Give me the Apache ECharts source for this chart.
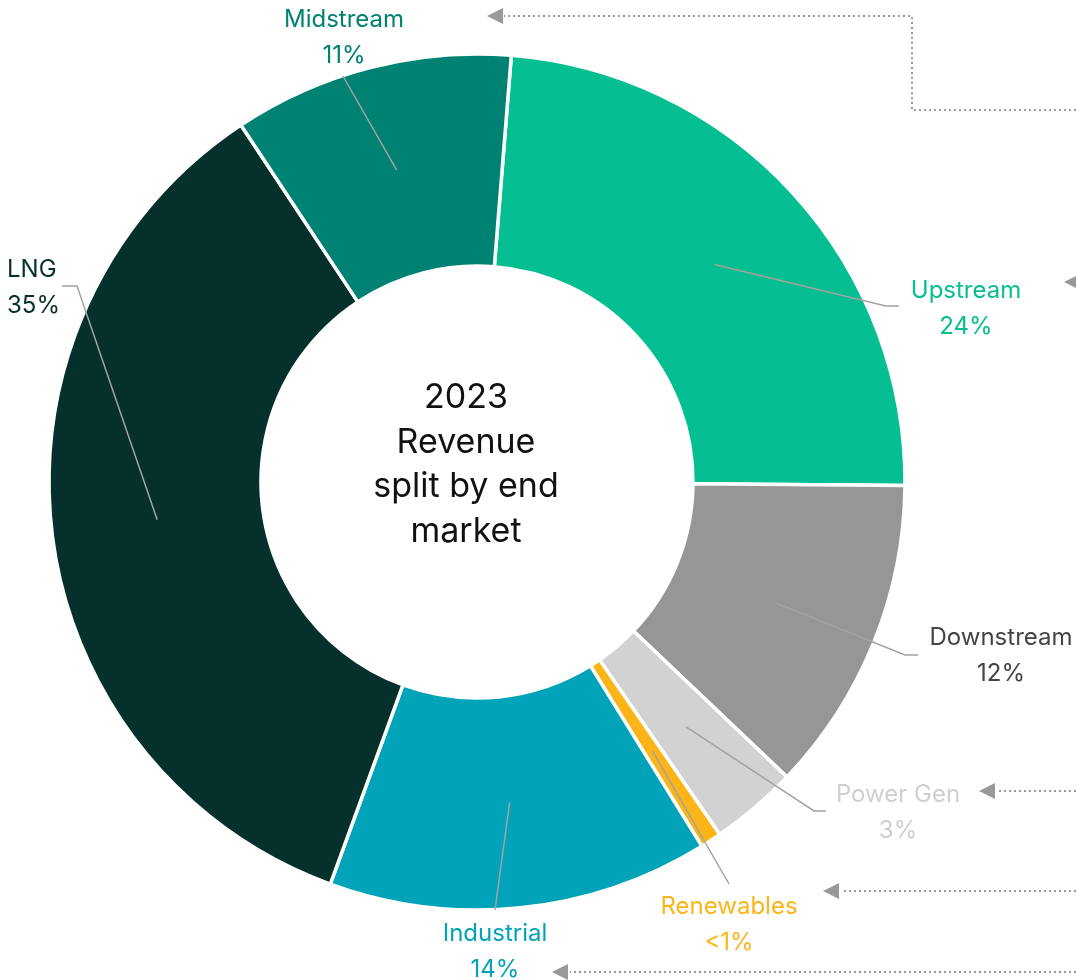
<!DOCTYPE html>
<html>
<head>
<meta charset="utf-8">
<script src="https://cdn.jsdelivr.net/npm/echarts@6/dist/echarts.min.js"></script>
<style>
  html, body { margin: 0; padding: 0; background: #fff; }
  #main { width: 1076px; height: 980px; }
</style>
</head>
<body>
<div id="main"></div>
<script>
// data, clockwise from the top
var categories = ['Upstream', 'Downstream', 'Power Gen', 'Renewables', 'Industrial', 'LNG', 'Midstream'];
var shares = [23.9, 12.0, 3.3, 0.8, 14.4, 35.2, 10.6];
var shareLabels = ['24%', '12%', '3%', '<1%', '14%', '35%', '11%'];

var sliceColors = ['#05be92', '#969696', '#d2d2d2', '#fbb519', '#00a3b7', '#06302b', '#008272'];
var textColors = ['#05be92', '#444444', '#cfcfcf', '#fbb519', '#00a3b7', '#06302b', '#008272'];

var FONT = 'Inter, "Noto Sans", sans-serif';
var CX = 477, CY = 482, R_IN = 216, R_OUT = 428;
var START = 85.4;

// where each label sits and how its leader line bends
var labelPlaces = [
  { x: 966, y: 309, align: 'center', line: [[886, 306], [899, 306]] },
  { x: 1001, y: 656, align: 'center', line: [[905, 655], [918, 655]] },
  { x: 898, y: 813, align: 'center', line: [[814, 811], [826, 811]] },
  { x: 729, y: 925, align: 'center', line: [[729, 884]] },
  { x: 495, y: 952, align: 'center', line: [[495, 910]] },
  { x: 7, y: 288, align: 'left', line: [[77, 286], [62, 286]] },
  { x: 344, y: 38, align: 'center', line: [[343, 76]] }
];

var total = 0;
shares.forEach(function (v) { total += v; });
var mids = [];
var acc = 0;
shares.forEach(function (v) { mids.push([0.5, acc + v / 2]); acc += v; });

var myChart = echarts.init(document.getElementById('main'));

function dotted(points) {
  return {
    type: 'polyline',
    shape: { points: points },
    style: { stroke: '#9a9a9a', lineWidth: 2, lineDash: [2, 3], fill: null },
    silent: true
  };
}
function arrowHead(x, y) {
  return {
    type: 'polygon',
    shape: { points: [[x, y], [x + 16, y - 8], [x + 16, y + 8]] },
    style: { fill: '#999' },
    silent: true
  };
}

var option = {
  animation: false,
  title: {
    text: '2023\nRevenue\nsplit by end\nmarket',
    left: 461,
    top: 371,
    textAlign: 'center',
    textStyle: { fontFamily: FONT, fontSize: 34, fontWeight: 'normal', color: '#111', lineHeight: 44.5 }
  },
  polar: { center: [CX, CY], radius: [R_IN, R_OUT] },
  angleAxis: { type: 'value', min: 0, max: total, startAngle: START, clockwise: true, show: false },
  radiusAxis: { type: 'value', min: 0, max: 1, show: false },
  graphic: [
    dotted([[1076, 110], [912, 110], [912, 16], [504, 16]]), arrowHead(487, 16),
    arrowHead(1064, 282),
    dotted([[1076, 791], [997, 791]]), arrowHead(979, 791),
    dotted([[1076, 891], [841, 891]]), arrowHead(823, 891),
    dotted([[1076, 972], [570, 972]]), arrowHead(552, 972)
  ],
  series: [
    {
      type: 'pie',
      center: [CX, CY],
      radius: [R_IN, R_OUT],
      startAngle: START,
      clockwise: true,
      label: { show: false },
      labelLine: { show: false },
      emphasis: { disabled: true },
      itemStyle: { borderColor: '#fff', borderWidth: 3.5 },
      data: categories.map(function (c, i) {
        return { name: c, value: shares[i], itemStyle: { color: sliceColors[i] } };
      })
    },
    {
      type: 'custom',
      coordinateSystem: 'polar',
      z: 5,
      silent: true,
      data: mids,
      renderItem: function (params, api) {
        var i = params.dataIndex;
        var p = api.coord([api.value(0), api.value(1)]);
        var place = labelPlaces[i];
        return {
          type: 'group',
          children: [
            {
              type: 'polyline',
              shape: { points: [p].concat(place.line) },
              style: { stroke: '#a3a3a3', lineWidth: 1.5, fill: null }
            },
            {
              type: 'text',
              x: place.x,
              y: place.y,
              style: {
                text: categories[i] + '\n' + shareLabels[i],
                fill: textColors[i],
                fontFamily: FONT,
                fontSize: 24,
                lineHeight: 36,
                align: place.align,
                verticalAlign: 'middle'
              }
            }
          ]
        };
      }
    }
  ]
};

myChart.setOption(option, true);
</script>
</body>
</html>
